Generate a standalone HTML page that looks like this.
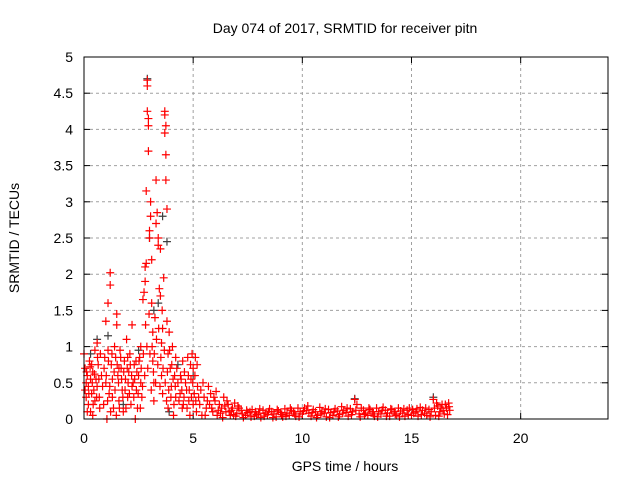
<!DOCTYPE html>
<html><head><meta charset="utf-8"><style>
body{margin:0;background:#fff}
svg{display:block;font-family:"Liberation Sans",sans-serif}
</style></head><body>
<svg id="chart" width="640" height="480" xmlns="http://www.w3.org/2000/svg">
<rect width="640" height="480" fill="#fff"/>
<text x="345" y="33" font-size="14" text-anchor="middle">Day 074 of 2017, SRMTID for receiver pitn</text>
<text transform="translate(19,238) rotate(-90)" font-size="14" text-anchor="middle">SRMTID / TECUs</text>
<text x="345" y="471" font-size="14" text-anchor="middle">GPS time / hours</text>
<g id="grid"></g><g id="ticks"></g><g id="black"></g><g id="red"></g>
<rect x="84" y="57" width="524" height="362" fill="none" stroke="#000" stroke-width="1"/>
</svg>
<script>
const xTicks=[0,5,10,15,20];
const yTicks=[0,0.5,1,1.5,2,2.5,3,3.5,4,4.5,5];
const yTickLabels=["0","0.5","1","1.5","2","2.5","3","3.5","4","4.5","5"];
const blackPoints=[[2.9,4.7],[3.0,2.5],[3.6,2.8],[3.8,2.45],[0.6,1.1],[3.2,1.5],[12.4,0.28],[16.0,0.3],[1.1,1.15],[2.5,0.95],[3.4,1.6],[3.9,0.1],[4.3,0.75],[5.0,0.6],[0.3,0.9],[1.8,0.2]];
const redPoints=[[0,0.9],[0.05,0.7],[0.1,0.5],[0.1,0.3],[0.15,0.6],[0.2,0.2],[0.2,0.45],[0.25,0.8],[0.3,0.1],[0.3,0.55],[0.35,0.35],[0.4,0.05],[0.4,0.65],[0.45,0.4],[0.5,0.95],[0.5,0.25],[0.55,0.55],[0.6,1.05],[0.6,0.45],[0.65,0.75],[0.7,0.3],[0.8,0.6],[0.9,0.2],[0.95,0.85],[1.0,1.35],[1.0,0.5],[1.05,0.0],[1.1,0.95],[1.1,1.6],[1.15,0.35],[1.2,2.02],[1.2,1.85],[1.25,0.75],[1.3,0.55],[1.35,0.15],[1.4,1.0],[1.45,0.85],[1.5,1.3],[1.5,1.45],[1.55,0.6],[1.6,0.25],[1.65,0.95],[1.7,0.7],[1.75,0.4],[1.8,0.1],[1.85,0.8],[1.9,0.55],[1.95,1.1],[2.0,0.3],[2.05,0.65],[2.1,0.9],[2.15,0.2],[2.2,1.3],[2.25,0.5],[2.3,0.75],[2.35,0.0],[2.4,0.4],[2.45,0.15],[2.5,0.6],[2.55,0.85],[2.6,1.0],[2.65,0.3],[2.7,1.65],[2.75,1.75],[2.8,1.9],[2.8,2.1],[2.85,2.15],[2.85,3.15],[2.9,4.6],[2.9,4.68],[2.9,4.25],[2.95,4.15],[2.95,4.05],[2.95,3.7],[3.0,2.6],[3.0,2.5],[3.05,2.8],[3.05,3.0],[3.1,2.2],[3.1,1.6],[3.15,1.2],[3.15,0.8],[3.2,0.5],[3.2,0.25],[3.25,1.4],[3.3,2.7],[3.3,3.3],[3.35,2.85],[3.4,2.4],[3.4,2.5],[3.45,1.8],[3.5,2.35],[3.5,1.7],[3.55,1.05],[3.55,0.6],[3.6,1.25],[3.6,0.35],[3.65,1.95],[3.7,4.25],[3.7,4.2],[3.7,3.95],[3.75,4.05],[3.75,3.65],[3.75,3.3],[3.8,2.9],[3.8,1.35],[3.85,0.9],[3.85,0.15],[3.9,1.2],[3.95,0.7],[4.0,0.45],[4.05,1.0],[4.1,0.05],[4.15,0.6],[4.2,0.3],[4.3,0.5],[4.4,0.35],[4.5,0.15],[4.6,0.65],[4.7,0.4],[4.75,0.85],[4.8,0.25],[4.9,0.55],[4.95,0.9],[5.0,0.7],[5.05,0.35],[5.1,0.85],[5.15,0.1],[5.2,0.45],
[0.15,0.1],[0.35,0.75],[0.75,0.9],[1.3,0.3],[1.6,0.7],[2.0,0.85],[2.2,0.45],[2.6,0.5],[4.2,0.85],[4.45,0.55],[4.55,0.2],[4.85,0.05],[5.0,0.2],
[0.05,0.4],[0.12,0.65],[0.22,0.35],[0.28,0.72],[0.38,0.5],[0.42,0.2],[0.48,0.62],[0.58,0.3],[0.62,0.85],[0.68,0.55],[0.72,0.15],[0.85,0.45],[0.92,0.7],[1.02,0.6],[1.08,0.25],[1.12,0.8],[1.18,0.45],[1.22,0.1],[1.28,0.9],[1.38,0.65],[1.42,0.4],[1.48,0.05],[1.52,0.75],[1.58,0.5],[1.62,0.15],[1.68,0.85],[1.72,0.55],[1.78,0.3],[1.82,0.65],[1.88,0.4],[1.92,0.15],[1.98,0.7],[2.02,0.5],[2.08,0.35],[2.12,0.75],[2.18,0.6],[2.28,0.3],[2.32,0.55],[2.38,0.8],[2.42,0.65],[2.48,0.35],[2.52,0.8],[2.58,0.15],[2.62,0.7],[2.68,0.45],[2.72,0.9],[2.78,0.6],[2.82,1.3],[2.88,1.0],[2.92,0.7],[2.98,1.45],[3.02,0.9],[3.08,0.4],[3.12,1.0],[3.18,0.65],[3.22,0.9],[3.28,0.5],[3.32,1.1],[3.38,0.75],[3.42,1.25],[3.48,0.45],[3.52,0.85],[3.58,1.5],[3.62,0.7],[3.68,0.95],[3.72,0.5],[3.78,0.25],[3.82,0.65],[3.88,0.4],[3.92,0.95],[3.98,0.3],[4.02,0.75],[4.08,0.55],[4.12,0.2],[4.18,0.45],[4.25,0.7],[4.35,0.25],[4.42,0.6],[4.48,0.4],[4.52,0.8],[4.58,0.3],[4.65,0.5],[4.72,0.15],[4.78,0.6],[4.82,0.4],[4.88,0.75],[4.92,0.3],[4.98,0.5],[5.08,0.6],[5.12,0.25],[5.18,0.75],[5.25,0.3],
[5.3,0.2],[5.4,0.05],[5.5,0.3],[5.6,0.15],[5.7,0.45],[5.8,0.35],[5.9,0.1],[6.0,0.25],[6.1,0.05],[6.2,0.2],[6.3,0.15],[6.4,0.3],[6.5,0.1],[6.6,0.2],[6.7,0.05],[6.8,0.15],[6.9,0.22],[7.0,0.08],[7.2,0.12],[7.4,0.05],[7.6,0.1],[7.8,0.04],[8.0,0.08],[8.2,0.12],[8.4,0.06],[8.6,0.1],[8.8,0.03],[9.0,0.09],[9.2,0.14],[9.4,0.05],[9.6,0.1],[9.8,0.15],[10.0,0.07],[10.2,0.12],[10.4,0.04],[10.6,0.1],[10.8,0.16],[11.0,0.08],[11.2,0.13],[11.4,0.05],[11.6,0.11],[11.8,0.17],[12.0,0.09],[12.2,0.14],[12.4,0.27],[12.5,0.2],[12.6,0.07],[12.8,0.12],[13.0,0.05],[13.2,0.1],[13.4,0.15],[13.6,0.07],[13.8,0.12],[14.0,0.04],[14.2,0.1],[14.4,0.15],[14.6,0.08],[14.8,0.12],[15.0,0.05],[15.2,0.1],[15.4,0.16],[15.6,0.08],[15.8,0.13],[16.0,0.27],[16.1,0.05],[16.2,0.18],[16.3,0.1],[16.4,0.2],[16.5,0.07],[16.6,0.15],[16.7,0.22],[16.75,0.12],
[5.35,0.4],[5.55,0.05],[5.75,0.2],[5.95,0.3],[6.15,0.12],[6.35,0.02],[6.55,0.25],[6.75,0.12],[6.95,0.04],[7.1,0.15],[7.3,0.02],[7.5,0.09],[7.7,0.13],[7.9,0.06],[8.1,0.02],[8.3,0.08],[8.5,0.14],[8.7,0.07],[8.9,0.11],[9.1,0.03],[9.3,0.08],[9.5,0.12],[9.7,0.04],[9.9,0.1],[10.1,0.15],[10.3,0.08],[10.5,0.13],[10.7,0.05],[10.9,0.1],[11.1,0.03],[11.3,0.09],[11.5,0.14],[11.7,0.06],[11.9,0.12],[12.1,0.04],[12.3,0.1],[12.7,0.15],[12.9,0.08],[13.1,0.13],[13.3,0.04],[13.5,0.1],[13.7,0.16],[13.9,0.08],[14.1,0.13],[14.3,0.05],[14.5,0.11],[14.7,0.04],[14.9,0.15],[15.1,0.08],[15.3,0.04],[15.5,0.12],[15.7,0.05],[15.9,0.1],[16.05,0.15],[16.25,0.04],[16.45,0.12],[16.65,0.06],
[5.45,0.5],[5.65,0.25],[5.85,0.15],[6.05,0.38],[6.25,0.08],[6.45,0.18],[6.65,0.1],[6.85,0.06],[7.05,0.18],[7.25,0.07],[7.45,0.12],[7.65,0.03],[7.85,0.1],[8.05,0.14],[8.25,0.04],[8.45,0.1],[8.65,0.02],[8.85,0.13],[9.05,0.06],[9.25,0.04],[9.45,0.15],[9.65,0.07],[9.85,0.03],[10.05,0.11],[10.25,0.18],[10.45,0.09],[10.65,0.02],[10.85,0.07],[11.05,0.14],[11.25,0.02],[11.45,0.1],[11.65,0.03],[11.85,0.08],[12.05,0.15],[12.25,0.06],[12.45,0.12],[12.65,0.03],[12.85,0.06],[13.05,0.15],[13.25,0.07],[13.45,0.03],[13.65,0.12],[13.85,0.04],[14.05,0.14],[14.25,0.07],[14.45,0.03],[14.65,0.14],[14.85,0.06],[15.05,0.13],[15.25,0.14],[15.45,0.06],[15.65,0.15],[15.85,0.03],[16.15,0.22],[16.35,0.15],[16.55,0.2],[16.72,0.17]];

const X0=84,X1=608,Y0=419,Y1=57;
const xs=h=>X0+h*(X1-X0)/24;
const ys=v=>Y0-v*(Y0-Y1)/5;
const NS="http://www.w3.org/2000/svg";
function mk(tag,attrs,parent){const e=document.createElementNS(NS,tag);for(const k in attrs)e.setAttribute(k,attrs[k]);parent.appendChild(e);return e;}
const grid=document.getElementById('grid'),ticks=document.getElementById('ticks');
yTicks.forEach((v,i)=>{
  const y=ys(v);
  if(v>0&&v<5){const g=mk('line',{x1:X0,x2:X1,y1:y,y2:y,stroke:'#a0a0a0','stroke-dasharray':'3,3'},grid);
  
  }
  mk('line',{x1:X0,x2:X0+6,y1:y,y2:y,stroke:'#000'},ticks);
  mk('line',{x1:X1,x2:X1-6,y1:y,y2:y,stroke:'#000'},ticks);
  const t=mk('text',{x:73,y:y+5,'font-size':14,'text-anchor':'end'},ticks);
  t.textContent=yTickLabels[i];
  
  
});
xTicks.forEach(h=>{
  const x=xs(h);
  if(h>0){const g=mk('line',{x1:x,x2:x,y1:Y0,y2:Y1,stroke:'#a0a0a0','stroke-dasharray':'3,3'},grid);
  
  }
  mk('line',{x1:x,x2:x,y1:Y0,y2:Y0-6,stroke:'#000'},ticks);
  mk('line',{x1:x,x2:x,y1:Y1,y2:Y1+6,stroke:'#000'},ticks);
  const t=mk('text',{x:x,y:443,'font-size':14,'text-anchor':'middle'},ticks);
  t.textContent=String(h);
  
  
});
function plus(p,color,parent){
  const x=xs(p[0]),y=ys(p[1]);
  const e=mk('path',{d:`M${x-4},${y}H${x+4}M${x},${y-4}V${y+4}`,stroke:color,'stroke-width':1.2,fill:'none'},parent);
  return e;
}
blackPoints.forEach(p=>{const e=plus(p,'#404040',document.getElementById('black'));
  
  });
redPoints.forEach(p=>{const e=plus(p,'#ff0000',document.getElementById('red'));
  
  });
</script>
</body></html>
